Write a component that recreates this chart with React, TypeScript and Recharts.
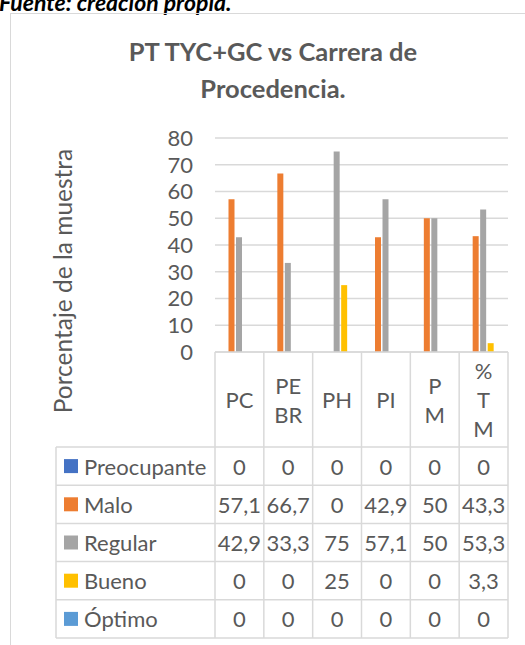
import { BarChart, Bar, XAxis, YAxis, CartesianGrid } from 'recharts';

const categories = ['PC', 'PE\nBR', 'PH', 'PI', 'P\nM', '%\nT\nM'];
const seriesNames = ['Preocupante', 'Malo', 'Regular', 'Bueno', 'Óptimo'];
const preocupante = [0, 0, 0, 0, 0, 0];
const malo = [57.1, 66.7, 0, 42.9, 50, 43.3];
const regular = [42.9, 33.3, 75, 57.1, 50, 53.3];
const bueno = [0, 0, 25, 0, 0, 3.3];
const optimo = [0, 0, 0, 0, 0, 0];
const yTicks = [0, 10, 20, 30, 40, 50, 60, 70, 80];

const colors = ['#4472C4', '#ED7D31', '#A5A5A5', '#FFC000', '#5B9BD5'];
const seriesValues = [preocupante, malo, regular, bueno, optimo];

const FONT = 'Lato, "Open Sans", sans-serif';
const TEXT = '#595959';
const LINE = '#d9d9d9';

const data = categories.map((cat, i) => ({
  cat,
  preocupante: preocupante[i],
  malo: malo[i],
  regular: regular[i],
  bueno: bueno[i],
  optimo: optimo[i],
}));

// table layout under the axis
const W = 525;
const H = 645;
const PLOT_LEFT = 215;
const PLOT_RIGHT = 508;
const BAND = (PLOT_RIGHT - PLOT_LEFT) / categories.length;
const HEADER_H = 95;
const ROW_H = 38.2;
const TABLE_LEFT = 56;
const FS = 22;

const fmt = (v: number) => String(v).replace('.', ',');

function TableTick(props: any) {
  const { x, y, payload, index } = props;
  const left = x - BAND / 2;
  const right = x + BAND / 2;
  const tableTop = y + HEADER_H;
  const tableBottom = tableTop + ROW_H * seriesNames.length;
  const lines = String(payload.value).split('\n');
  const headerMid = y + HEADER_H / 2;

  return (
    <g>
      <line x1={left} x2={left} y1={y} y2={tableBottom} stroke={LINE} strokeWidth={1.5} />
      {index === categories.length - 1 && (
        <line x1={right} x2={right} y1={y} y2={tableBottom} stroke={LINE} strokeWidth={1.5} />
      )}
      {lines.map((l, k) => (
        <text
          key={k}
          x={x}
          y={headerMid + (k - (lines.length - 1) / 2) * 29}
          textAnchor="middle"
          dominantBaseline="central"
          fill={TEXT}
          fontSize={FS}
          fontFamily={FONT}
        >
          {l}
        </text>
      ))}
      {seriesValues.map((vals, r) => (
        <text
          key={r}
          x={x}
          y={tableTop + ROW_H * r + ROW_H / 2}
          textAnchor="middle"
          dominantBaseline="central"
          fill={TEXT}
          fontSize={FS}
          fontFamily={FONT}
        >
          {fmt(vals[index])}
        </text>
      ))}
      {index === 0 && (
        <g>
          <line x1={TABLE_LEFT} x2={TABLE_LEFT} y1={tableTop} y2={tableBottom} stroke={LINE} strokeWidth={1.5} />
          {seriesNames.map((_, r) => (
            <line
              key={'h' + r}
              x1={TABLE_LEFT}
              x2={left + BAND * categories.length}
              y1={tableTop + ROW_H * r}
              y2={tableTop + ROW_H * r}
              stroke={LINE}
              strokeWidth={1.5}
            />
          ))}
          <line
            x1={TABLE_LEFT}
            x2={left + BAND * categories.length}
            y1={tableBottom}
            y2={tableBottom}
            stroke={LINE}
            strokeWidth={1.5}
          />
          {seriesNames.map((name, r) => {
            const cy = tableTop + ROW_H * r + ROW_H / 2;
            return (
              <g key={name}>
                <rect x={64} y={cy - 7} width={14} height={14} fill={colors[r]} />
                <text
                  x={84}
                  y={cy}
                  dominantBaseline="central"
                  fill={TEXT}
                  fontSize={FS}
                  fontFamily={FONT}
                >
                  {name}
                </text>
              </g>
            );
          })}
        </g>
      )}
    </g>
  );
}

export default function App() {
  return (
    <div
      style={{
        position: 'absolute',
        left: 0,
        top: 0,
        width: W,
        height: H,
        overflow: 'hidden',
        background: '#fff',
        fontFamily: FONT,
      }}
    >
      <div
        style={{
          position: 'absolute',
          left: -1,
          top: -10,
          fontSize: 23,
          lineHeight: '24px',
          fontWeight: 700,
          fontStyle: 'italic',
          color: '#000',
          whiteSpace: 'nowrap',
        }}
      >
        Fuente: creación propia.
      </div>
      <div
        style={{
          position: 'absolute',
          left: 10,
          top: 13,
          width: 700,
          height: 800,
          border: `1.5px solid ${LINE}`,
        }}
      />
      <div
        style={{
          position: 'absolute',
          left: 0,
          width: 546,
          top: 33,
          textAlign: 'center',
          fontSize: 25.5,
          fontWeight: 700,
          color: TEXT,
          lineHeight: '37px',
        }}
      >
        PT TYC+GC vs Carrera de
        <br />
        Procedencia.
      </div>
      <div
        style={{
          position: 'absolute',
          left: 63 - 150,
          top: 281 - 15,
          width: 300,
          height: 30,
          lineHeight: '30px',
          textAlign: 'center',
          fontSize: 24.5,
          color: TEXT,
          transform: 'rotate(-90deg)',
          whiteSpace: 'nowrap',
        }}
      >
        Porcentaje de la muestra
      </div>
      <div style={{ position: 'absolute', left: 0, top: 0 }}>
        <BarChart
          width={W}
          height={H}
          data={data}
          margin={{ top: 138, right: W - PLOT_RIGHT, bottom: 0, left: 0 }}
          barSize={6}
          barGap={1.5}
        >
          <CartesianGrid vertical={false} stroke={LINE} strokeWidth={1.5} />
          <XAxis
            dataKey="cat"
            height={H - 352}
            interval={0}
            tickSize={0}
            tickMargin={0}
            tickLine={false}
            axisLine={{ stroke: LINE, strokeWidth: 1.5 }}
            tick={<TableTick />}
          />
          <YAxis
            width={PLOT_LEFT}
            domain={[0, 80]}
            ticks={yTicks}
            interval={0}
            axisLine={false}
            tickLine={false}
            tickSize={0}
            tickMargin={22}
            tick={{ fill: TEXT, fontSize: FS, fontFamily: FONT }}
          />
          <Bar dataKey="preocupante" name={seriesNames[0]} fill={colors[0]} isAnimationActive={false} />
          <Bar dataKey="malo" name={seriesNames[1]} fill={colors[1]} isAnimationActive={false} />
          <Bar dataKey="regular" name={seriesNames[2]} fill={colors[2]} isAnimationActive={false} />
          <Bar dataKey="bueno" name={seriesNames[3]} fill={colors[3]} isAnimationActive={false} />
          <Bar dataKey="optimo" name={seriesNames[4]} fill={colors[4]} isAnimationActive={false} />
        </BarChart>
      </div>
    </div>
  );
}
